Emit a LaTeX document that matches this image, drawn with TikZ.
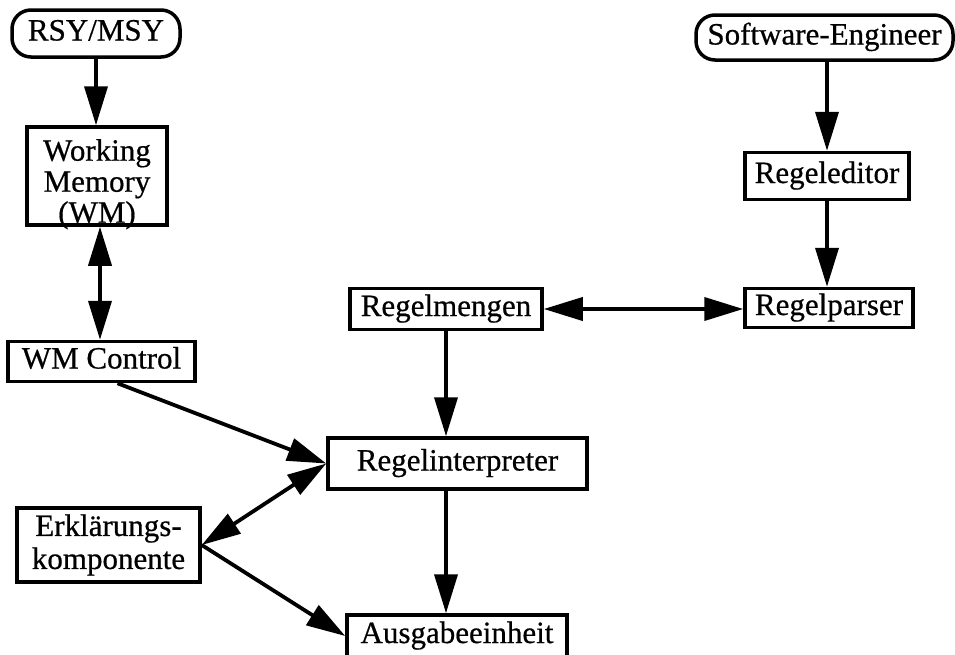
\documentclass[tikz,border=0pt]{standalone}
\usepackage{fontspec}
\setmainfont{Liberation Serif}
\newfontfamily\diafont{Liberation Serif}[FakeBold=0.6]
\usetikzlibrary{arrows.meta}

\tikzset{
  blk/.style={draw, line width=3.5pt, inner sep=0pt, align=center,
    font=\fontsize{31}{31}\diafont, text height=21pt, text depth=7pt},
  actor/.style={blk, rounded corners=19pt},
  conn/.style={line width=3.8pt, -{Triangle[length=39pt,width=23pt]}},
  biconn/.style={line width=3.8pt, {Triangle[length=39pt,width=23pt]}-{Triangle[length=39pt,width=23pt]}},
}

\begin{document}
\begin{tikzpicture}[x=1pt, y=-1pt]
  \useasboundingbox (0,0) rectangle (955,654);

  % external actors
  \node[actor, minimum width=168pt, minimum height=47pt] (rsy) at (96,33.5) {RSY/MSY};
  \node[actor, minimum width=257pt, minimum height=45pt] (se) at (824.5,37.5) {Software-Engineer};

  % left column
  \node[draw, line width=3.5pt, minimum width=140pt, minimum height=98pt, inner sep=0pt] (wm) at (97,176) {};
  \node[inner sep=0pt, anchor=north, align=center, font=\fontsize{31}{31}\diafont] (wmtext) at (97,139) {Working\\Memory\\(WM)};
  \node[blk, minimum width=187pt, minimum height=40pt] (wmc) at (101.5,361.5) {WM Control};
  \node[blk, minimum width=183pt, minimum height=74pt, font=\fontsize{31}{33}\diafont, text height=, text depth=] (erk) at (108.5,545) {Erklärungs-\\komponente};

  % rule processing
  \node[blk, minimum width=164pt, minimum height=47pt] (re) at (827,176) {Regeleditor};
  \node[blk, minimum width=168pt, minimum height=39pt] (rp) at (829,308) {Regelparser};
  \node[blk, minimum width=192pt, minimum height=41pt] (rm) at (446,309) {Regelmengen};
  \node[blk, minimum width=259pt, minimum height=51pt] (rint) at (457.5,463.5) {Regelinterpreter};
  \node[blk, minimum width=220pt, minimum height=42pt] (ausg) at (457,636) {Ausgabeeinheit};

  % connectors
  \draw[conn] (rsy) -- (rsy |- wm.north);
  \draw[biconn] (wm.south -| 100,0) -- (wmc.north -| 100,0);
  \draw[conn] (se.south -| re) -- (re.north);
  \draw[conn] (re) -- (re |- rp.north);
  \draw[biconn] (rm.east) -- (rm.east -| rp.west);
  \draw[conn] (rm) -- (rm |- rint.north);
  \draw[conn] ([xshift=16pt]wmc.south) -- (rint.west);
  \draw[biconn] (erk.east) -- (rint.west);
  \draw[conn] (erk.east) -- (ausg.west);
  \draw[conn] (rint.south -| rm) -- (ausg.north -| rm);
\end{tikzpicture}
\end{document}
